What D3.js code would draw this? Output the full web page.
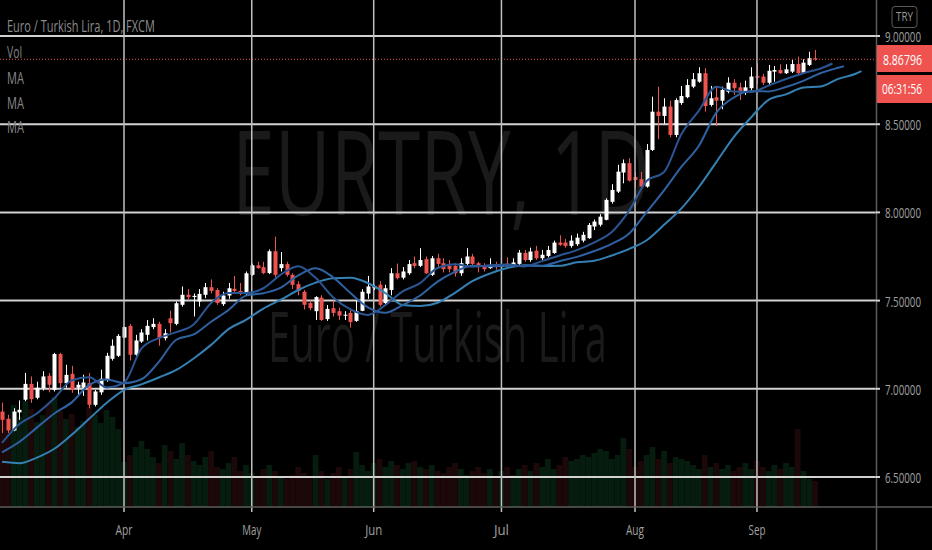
<!DOCTYPE html>
<html><head><meta charset="utf-8">
<script src="https://cdn.jsdelivr.net/npm/d3@7"></script>
<style>html,body{margin:0;padding:0;background:#000;overflow:hidden}</style>
</head><body>
<svg id="chart" width="932" height="550"></svg>
<script>
// ---------- DATA ----------
const months = ["Apr","May","Jun","Jul","Aug","Sep"];
const monthBar = [21,43,64,86,109,130];
const priceTicks = [6.5,7.0,7.5,8.0,8.5,9.0];
const lastPrice = 8.86796;
const countdown = "06:31:56";
const currency = "TRY";
const title = "Euro / Turkish Lira, 1D, FXCM";
const legendItems = ["Vol","MA","MA","MA"];

const opens = [6.871,6.830,6.764,6.866,6.938,7.028,6.949,7.004,7.074,6.994,
7.197,7.032,7.085,7.006,7.006,7.032,6.909,6.980,7.051,7.170,
7.187,7.290,7.357,7.193,7.268,7.306,7.350,7.368,7.287,7.400,
7.368,7.476,7.533,7.520,7.495,7.533,7.576,7.560,7.480,7.529,
7.567,7.555,7.540,7.646,7.700,7.690,7.656,7.780,7.684,7.707,
7.646,7.593,7.550,7.486,7.440,7.517,7.395,7.457,7.440,7.416,
7.430,7.385,7.442,7.540,7.570,7.590,7.486,7.560,7.655,7.630,
7.655,7.712,7.697,7.735,7.646,7.740,7.712,7.697,7.697,7.655,
7.708,7.750,7.712,7.697,7.684,7.700,7.690,7.710,7.700,7.708,
7.770,7.730,7.783,7.740,7.753,7.770,7.829,7.829,7.810,7.820,
7.840,7.854,7.920,7.930,7.958,8.060,8.118,8.226,8.279,8.200,
8.188,8.146,8.354,8.571,8.547,8.600,8.439,8.620,8.653,8.713,
8.741,8.789,8.609,8.653,8.633,8.684,8.735,8.709,8.679,8.704,
8.773,8.770,8.735,8.798,8.807,8.789,8.798,8.841,8.792,8.836,
8.874];
const highs = [6.922,6.853,6.890,6.934,7.090,7.070,7.040,7.100,7.090,7.204,
7.204,7.136,7.130,7.040,7.080,7.090,6.994,7.108,7.204,7.280,
7.310,7.353,7.368,7.306,7.338,7.390,7.400,7.380,7.338,7.444,
7.495,7.580,7.565,7.540,7.565,7.600,7.620,7.570,7.550,7.600,
7.640,7.600,7.665,7.710,7.720,7.720,7.790,7.863,7.775,7.720,
7.655,7.610,7.560,7.500,7.525,7.530,7.475,7.500,7.460,7.440,
7.448,7.500,7.565,7.640,7.590,7.610,7.590,7.684,7.710,7.690,
7.730,7.750,7.797,7.750,7.753,7.765,7.740,7.730,7.712,7.740,
7.797,7.765,7.720,7.712,7.740,7.720,7.712,7.745,7.740,7.787,
7.787,7.800,7.810,7.787,7.810,7.840,7.870,7.850,7.870,7.880,
7.890,7.940,7.960,7.990,8.080,8.160,8.270,8.300,8.307,8.230,
8.230,8.388,8.656,8.713,8.647,8.633,8.647,8.717,8.755,8.790,
8.823,8.817,8.717,8.713,8.713,8.766,8.755,8.735,8.747,8.823,
8.845,8.785,8.836,8.830,8.840,8.840,8.864,8.883,8.868,8.911,
8.921];
const lows = [6.749,6.749,6.760,6.824,6.930,6.920,6.940,6.990,6.980,6.985,
7.006,7.006,6.977,6.960,6.960,6.890,6.900,6.966,7.040,7.160,
7.180,7.287,7.160,7.187,7.260,7.274,7.338,7.244,7.274,7.319,
7.360,7.466,7.504,7.410,7.466,7.514,7.540,7.476,7.470,7.510,
7.540,7.530,7.530,7.640,7.680,7.650,7.650,7.630,7.665,7.636,
7.566,7.530,7.450,7.445,7.390,7.385,7.385,7.410,7.390,7.390,
7.347,7.380,7.440,7.510,7.560,7.466,7.476,7.530,7.620,7.620,
7.646,7.684,7.690,7.650,7.640,7.690,7.660,7.660,7.636,7.640,
7.700,7.700,7.660,7.665,7.680,7.675,7.685,7.690,7.690,7.700,
7.720,7.720,7.730,7.730,7.745,7.765,7.810,7.800,7.800,7.810,
7.830,7.850,7.900,7.920,7.955,8.050,8.110,8.165,8.175,8.137,
8.137,8.140,8.348,8.415,8.500,8.426,8.426,8.610,8.647,8.704,
8.735,8.571,8.600,8.490,8.585,8.675,8.666,8.637,8.666,8.694,
8.728,8.722,8.722,8.741,8.785,8.785,8.790,8.785,8.789,8.830,
8.860];
const closes = [6.824,6.764,6.871,6.881,7.028,6.942,7.006,7.070,7.023,7.197,
7.032,7.079,6.994,7.023,7.036,6.909,6.985,7.057,7.187,7.244,
7.300,7.350,7.193,7.274,7.319,7.357,7.368,7.287,7.315,7.372,
7.485,7.533,7.520,7.527,7.538,7.576,7.555,7.486,7.529,7.570,
7.555,7.540,7.655,7.700,7.684,7.656,7.780,7.646,7.707,7.646,
7.589,7.555,7.476,7.457,7.520,7.390,7.453,7.430,7.415,7.420,
7.378,7.440,7.550,7.580,7.583,7.476,7.570,7.655,7.627,7.665,
7.707,7.697,7.730,7.655,7.740,7.708,7.678,7.678,7.655,7.712,
7.750,7.708,7.690,7.678,7.700,7.690,7.700,7.700,7.716,7.772,
7.730,7.778,7.740,7.760,7.787,7.829,7.816,7.810,7.840,7.857,
7.873,7.929,7.948,7.976,8.071,8.127,8.231,8.279,8.180,8.184,
8.146,8.354,8.571,8.547,8.600,8.439,8.637,8.660,8.722,8.755,
8.789,8.603,8.647,8.633,8.694,8.735,8.704,8.679,8.709,8.770,
8.764,8.735,8.803,8.807,8.789,8.811,8.841,8.789,8.849,8.874,
8.868];
const volumes = [95,88,102,90,106,98,85,92,104,110,96,88,93,80,86,100,92,84,97,90,78,
45,52,60,66,58,50,44,62,56,48,64,52,46,42,50,56,40,38,44,50,36,42,
34,30,38,42,36,30,28,32,40,34,30,52,36,28,34,40,30,38,55,42,36,
44,48,40,46,42,38,44,46,40,38,42,36,34,40,44,38,32,36,40,34,38,30,
36,40,32,38,42,36,44,40,48,38,42,50,46,48,52,50,54,58,56,48,52,69,58,
40,46,52,60,48,56,44,50,48,46,42,38,52,40,44,38,42,36,40,44,38,
46,40,36,42,38,44,40,78,36,28,26];

const maFastBar = [0,3,6,9,12,15,18,21,24,27,30,33,36,39,42,45,48,51,54,57,60,63,66,69,72,75,78,81,84,87,90,93,96,99,102,105,108,111,114,117,120,123,126,129,132,135,138,141,143];
const maFast = [6.694,6.80,6.86,6.946,7.048,7.065,7.008,7.035,7.228,7.287,7.321,7.365,7.487,7.543,7.543,7.570,7.647,7.695,7.629,7.519,7.450,7.419,7.474,7.552,7.599,7.685,7.706,7.692,7.701,7.705,7.694,7.724,7.756,7.786,7.830,7.889,8.010,8.178,8.229,8.444,8.577,8.713,8.685,8.683,8.719,8.756,8.789,8.816,8.844];
const maMidBar = [0,3,6,9,12,15,18,21,24,27,30,33,36,39,42,45,48,51,54,57,60,63,66,69,72,75,78,81,84,87,90,93,96,99,102,105,108,111,114,117,120,123,126,129,132,135,138,141,144,145];
const maMid = [6.64,6.70,6.78,6.86,6.923,7.022,7.053,7.032,7.054,7.153,7.278,7.308,7.380,7.447,7.528,7.542,7.574,7.643,7.684,7.632,7.543,7.462,7.431,7.475,7.529,7.608,7.663,7.698,7.695,7.697,7.698,7.698,7.723,7.748,7.781,7.822,7.881,8.002,8.125,8.259,8.378,8.566,8.651,8.688,8.686,8.711,8.746,8.790,8.820,8.829];
const maSlowBar = [0,3,6,9,12,15,18,21,24,27,30,33,36,39,42,45,48,51,54,57,60,63,66,69,72,75,78,81,84,87,90,93,96,99,102,105,108,111,114,117,120,123,126,129,132,135,138,141,144,147,148];
const maSlow = [6.586,6.578,6.61,6.66,6.74,6.83,6.92,6.993,7.025,7.064,7.107,7.172,7.249,7.338,7.391,7.455,7.505,7.560,7.602,7.627,7.630,7.600,7.543,7.475,7.469,7.488,7.544,7.610,7.653,7.685,7.701,7.696,7.697,7.717,7.726,7.756,7.793,7.842,7.930,8.023,8.144,8.285,8.427,8.539,8.638,8.669,8.708,8.714,8.757,8.786,8.801];

// ---------- CHART ----------
const W = 932, H = 550, plotR = 876, plotB = 507;
const svg = d3.select("#chart");
const font = "'Open Sans', 'Noto Sans', sans-serif";
svg.append("rect").attr("width", W).attr("height", H).attr("fill", "#000");
svg.append("defs").append("clipPath").attr("id", "clip")
  .append("rect").attr("x", 0).attr("y", 0).attr("width", plotR).attr("height", plotB);

const x = d3.scaleLinear().domain([0, 140]).range([2.05, 815.03]);
const y = d3.scaleLinear().domain([6.5, 9.0]).range([477, 36]);
const vy = d3.scaleLinear().domain([0, 100]).range([plotB, plotB - 100]);

// narrow text: natural glyphs compressed horizontally to a target width
function label(parent, txt, px, py, w, size, fill, anchor, dy) {
  const g = parent.append("g");
  const t = g.append("text").attr("font-family", font).attr("font-size", size)
    .attr("fill", fill).attr("text-anchor", anchor || "start").text(txt);
  if (dy) t.attr("dy", dy);
  const nat = t.node().getComputedTextLength() || w;
  g.attr("transform", `translate(${px},${py}) scale(${(w / nat).toFixed(4)},1)`);
  return t;
}

const plot = svg.append("g").attr("clip-path", "url(#clip)");

// watermark
label(plot, "EURTRY, 1D", 441, 215, 418, 118, "#1a1a1a", "middle");
label(plot, "Euro / Turkish Lira", 437.5, 362, 339, 70, "#1a1a1a", "middle");

const bars = d3.range(opens.length);
const isUp = i => closes[i] >= opens[i];

// volume
plot.append("g").selectAll("rect").data(bars).join("rect")
  .attr("x", i => x(i) - 2.9).attr("width", 5.8)
  .attr("y", i => vy(volumes[i])).attr("height", i => plotB - vy(volumes[i]))
  .attr("fill", i => isUp(i) ? "#061c0e" : "#1d0809");

// grid
plot.append("g").selectAll("line").data(priceTicks).join("line")
  .attr("x1", 0).attr("x2", plotR).attr("y1", d => y(d)).attr("y2", d => y(d))
  .attr("stroke", "#d2d2d2").attr("stroke-width", 2);
svg.append("g").selectAll("line").data(monthBar).join("line")
  .attr("x1", d => x(d)).attr("x2", d => x(d)).attr("y1", 0).attr("y2", 512)
  .attr("stroke", "#c0c0c0").attr("stroke-width", 1.5);

// candles
const cg = plot.append("g");
cg.selectAll("line").data(bars).join("line")
  .attr("x1", i => Math.round(x(i)) + 0.5).attr("x2", i => Math.round(x(i)) + 0.5)
  .attr("y1", i => y(highs[i])).attr("y2", i => y(lows[i]))
  .attr("stroke", i => isUp(i) ? "#ffffff" : "#ef5350").attr("stroke-width", 1);
cg.selectAll("rect").data(bars).join("rect")
  .attr("x", i => Math.round(x(i)) - 1.5).attr("width", 4)
  .attr("y", i => y(Math.max(opens[i], closes[i])))
  .attr("height", i => Math.max(1, Math.abs(y(opens[i]) - y(closes[i]))))
  .attr("fill", i => isUp(i) ? "#ffffff" : "#ef5350");

// moving averages
const line = d3.line().x(d => x(d[0])).y(d => y(d[1])).curve(d3.curveMonotoneX);
const mas = [
  {bars: maSlowBar, vals: maSlow, color: "#3580b2"},
  {bars: maMidBar, vals: maMid, color: "#2f62a3"},
  {bars: maFastBar, vals: maFast, color: "#2a5592"}
];
mas.forEach(m => {
  svg.append("path").attr("d", line(m.bars.map((b, k) => [b, m.vals[k]])))
    .attr("fill", "none").attr("stroke", m.color).attr("stroke-width", 2);
});

// last price dotted line
plot.append("line").attr("x1", 0).attr("x2", plotR).attr("y1", y(lastPrice)).attr("y2", y(lastPrice))
  .attr("stroke", "#ef5350").attr("stroke-width", 1).attr("stroke-dasharray", "1,2");

// axes areas and separators
svg.append("rect").attr("x", plotR + 1).attr("y", 0).attr("width", W - plotR).attr("height", H).attr("fill", "#000");
svg.append("rect").attr("x", 0).attr("y", plotB + 1).attr("width", plotR + 1).attr("height", H - plotB).attr("fill", "#000");
svg.append("g").selectAll("line").data(monthBar).join("line")
  .attr("x1", d => x(d)).attr("x2", d => x(d)).attr("y1", plotB).attr("y2", 512)
  .attr("stroke", "#c0c0c0").attr("stroke-width", 1.5);
svg.append("line").attr("x1", plotR + 0.5).attr("x2", plotR + 0.5).attr("y1", 0).attr("y2", H)
  .attr("stroke", "#5c5c5c").attr("stroke-width", 1.5);
svg.append("line").attr("x1", 0).attr("x2", W).attr("y1", plotB).attr("y2", plotB)
  .attr("stroke", "#5c5c5c").attr("stroke-width", 1.5);

// price axis ticks + labels
svg.append("g").selectAll("line").data(priceTicks).join("line")
  .attr("x1", plotR).attr("x2", plotR + 4).attr("y1", d => y(d)).attr("y2", d => y(d))
  .attr("stroke", "#d2d2d2").attr("stroke-width", 2);
const axisG = svg.append("g");
priceTicks.forEach(p => label(axisG, d3.format(".5f")(p), 885, y(p) + 1, 36, 14, "#a0a0a0", "start", "0.36em"));

// last price box & countdown
svg.append("rect").attr("x", 877).attr("y", 45).attr("width", 55).attr("height", 27).attr("fill", "#ef5350");
label(svg, d3.format(".5f")(lastPrice), 883, y(lastPrice), 39, 15, "#ffffff", "start", "0.36em");
svg.append("rect").attr("x", 877).attr("y", 75).attr("width", 55).attr("height", 28).attr("fill", "#ef5350");
label(svg, countdown, 882, 89, 40, 15, "#ffffff", "start", "0.36em");

// currency box
svg.append("rect").attr("x", 892).attr("y", 6.5).attr("width", 25).attr("height", 21).attr("rx", 3)
  .attr("fill", "#000").attr("stroke", "#5a5a5a").attr("stroke-width", 1);
label(svg, currency, 904.5, 16.5, 17, 12, "#9a9a9a", "middle", "0.36em");

// time axis labels
const monthW = {Apr: 17, May: 19, Jun: 17, Jul: 15, Aug: 18, Sep: 17};
months.forEach((m, k) => label(svg, m, x(monthBar[k]), 530, monthW[m], 15, "#a0a0a0", "middle", "0.36em"));

// legend
label(svg, title, 7, 32, 148, 16, "#8c8c8c");
const legY = [58, 84, 109, 133];
legendItems.forEach((t, k) => label(svg, t, 7, legY[k], t === "Vol" ? 15 : 17, 16, "#858585"));
</script>
</body></html>
